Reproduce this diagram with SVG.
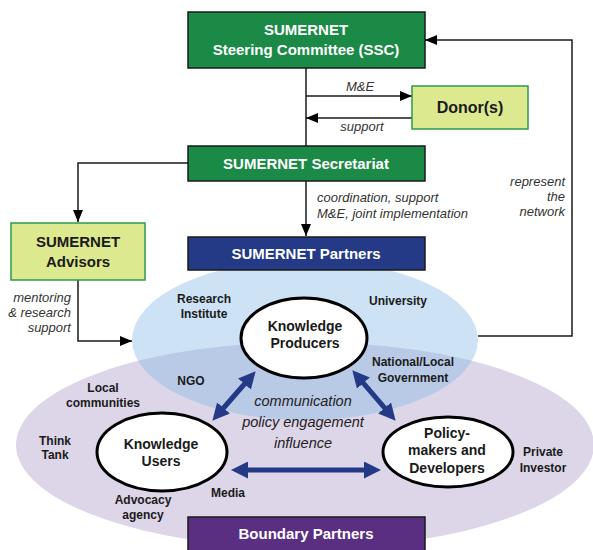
<svg xmlns="http://www.w3.org/2000/svg" width="593" height="550" viewBox="0 0 593 550">
<style>
.t{font-family:"Liberation Sans",Arial,sans-serif;font-weight:bold;text-anchor:middle}
.w{fill:#ffffff}
.k{fill:#1a1a1a}
.i{font-family:"Liberation Sans",Arial,sans-serif;font-style:italic;font-size:13px;fill:#333333}
.c{font-family:"Liberation Sans",Arial,sans-serif;font-style:italic;font-size:14.5px;fill:#222222;text-anchor:middle}
.lbl{font-family:"Liberation Sans",Arial,sans-serif;font-weight:bold;font-size:12px;fill:#1a1a1a;text-anchor:middle}
.con{fill:none;stroke:#1a1a1a;stroke-width:1.5}
.blu{fill:none;stroke:#243a86;stroke-width:5}
.ell{fill:#ffffff;stroke:#000000;stroke-width:3}
</style>
<defs>
<marker id="ah" viewBox="0 0 12 10" refX="12" refY="5" markerWidth="12" markerHeight="10" markerUnits="userSpaceOnUse" orient="auto">
<path d="M0,0 L12,5 L0,10 z" fill="#000000"/>
</marker>
<marker id="bh" viewBox="0 0 17 17" refX="4" refY="8.5" markerWidth="17" markerHeight="17" markerUnits="userSpaceOnUse" orient="auto-start-reverse">
<path d="M0,0 L17,8.5 L0,17 z" fill="#243a86"/>
</marker>
<clipPath id="clipBlue"><ellipse cx="305" cy="340" rx="173" ry="80"/></clipPath>
</defs>

<g id="background">
<ellipse cx="305" cy="445" rx="289" ry="103" fill="#ddd5e8"/>
<ellipse cx="305" cy="340" rx="173" ry="80" fill="#cee2f5"/>
<ellipse cx="305" cy="445" rx="289" ry="103" fill="#b9cae7" clip-path="url(#clipBlue)"/>
</g>

<g id="connectors">
<line class="con" x1="306" y1="68" x2="306" y2="146"/>
<line class="con" x1="306" y1="96" x2="412" y2="96" marker-end="url(#ah)"/>
<line class="con" x1="412" y1="118" x2="306" y2="118" marker-end="url(#ah)"/>
<polyline class="con" points="188,163 78,163 78,222" marker-end="url(#ah)"/>
<line class="con" x1="306" y1="181" x2="306" y2="236" marker-end="url(#ah)"/>
<polyline class="con" points="78,280 78,341 132,341" marker-end="url(#ah)"/>
<polyline class="con" points="478,336 572,336 572,40 425,40" marker-end="url(#ah)"/>
<line class="blu" x1="247.1" y1="381" x2="220.9" y2="411" marker-start="url(#bh)" marker-end="url(#bh)"/>
<line class="blu" x1="360.8" y1="380.1" x2="387.2" y2="410.9" marker-start="url(#bh)" marker-end="url(#bh)"/>
<line class="blu" x1="244" y1="470" x2="368" y2="470" marker-start="url(#bh)" marker-end="url(#bh)"/>
<text class="i" x="360" y="91" text-anchor="middle">M&amp;E</text>
<text class="i" x="362" y="131" text-anchor="middle">support</text>
<text class="i" x="317" y="202">coordination, support</text>
<text class="i" x="317" y="218">M&amp;E, joint implementation</text>
<text class="i" x="565" y="186" text-anchor="end">represent</text>
<text class="i" x="565" y="201" text-anchor="end">the</text>
<text class="i" x="565" y="216" text-anchor="end">network</text>
<text class="i" x="71" y="302" text-anchor="end">mentoring</text>
<text class="i" x="71" y="317" text-anchor="end">&amp; research</text>
<text class="i" x="71" y="332" text-anchor="end">support</text>
<text class="c" x="303" y="406">communication</text>
<text class="c" x="303" y="427">policy engagement</text>
<text class="c" x="303" y="448">influence</text>
</g>

<g id="ssc">
<rect x="188" y="12" width="237" height="56" fill="#1b8a46" stroke="#1a1a1a" stroke-width="1.5"/>
<text class="t w" x="306" y="35" font-size="15">SUMERNET</text>
<text class="t w" x="306" y="55" font-size="15">Steering Committee (SSC)</text>
</g>

<g id="donors">
<rect x="412" y="86" width="116" height="43" fill="#dde98e" stroke="#2e9a4c" stroke-width="1.5"/>
<text class="t k" x="470" y="113" font-size="16">Donor(s)</text>
</g>

<g id="secretariat">
<rect x="188" y="146" width="237" height="35" fill="#1b8a46" stroke="#1a1a1a" stroke-width="1.5"/>
<text class="t w" x="306" y="169" font-size="15">SUMERNET Secretariat</text>
</g>

<g id="advisors">
<rect x="11" y="223" width="134" height="57" fill="#dde98e" stroke="#2e9a4c" stroke-width="1.5"/>
<text class="t k" x="78" y="247" font-size="15">SUMERNET</text>
<text class="t k" x="78" y="267" font-size="15">Advisors</text>
</g>

<g id="partners">
<rect x="188" y="237" width="237" height="33" fill="#253a86" stroke="#1a1a1a" stroke-width="1.5"/>
<text class="t w" x="306" y="259" font-size="15">SUMERNET Partners</text>
</g>

<g id="boundary-partners">
<rect x="188" y="517" width="237" height="40" fill="#5a2f82" stroke="#1a1a1a" stroke-width="1.5"/>
<text class="t w" x="306" y="539" font-size="15">Boundary Partners</text>
</g>

<g id="knowledge-producers">
<ellipse class="ell" cx="304" cy="338" rx="63" ry="40"/>
<text class="t k" x="305" y="331" font-size="14">Knowledge</text>
<text class="t k" x="305" y="348" font-size="14">Producers</text>
</g>

<g id="knowledge-users">
<ellipse class="ell" cx="162" cy="452" rx="65" ry="39"/>
<text class="t k" x="161" y="449" font-size="14">Knowledge</text>
<text class="t k" x="161" y="466" font-size="14">Users</text>
</g>

<g id="policy-makers">
<ellipse class="ell" cx="448" cy="452" rx="65" ry="35"/>
<text class="t k" x="447" y="438" font-size="14">Policy-</text>
<text class="t k" x="447" y="455" font-size="14">makers and</text>
<text class="t k" x="447" y="473" font-size="14">Developers</text>
</g>

<g id="labels">
<text class="lbl" x="204" y="303">Research</text>
<text class="lbl" x="204" y="318">Institute</text>
<text class="lbl" x="398" y="305">University</text>
<text class="lbl" x="413" y="366">National/Local</text>
<text class="lbl" x="413" y="382">Government</text>
<text class="lbl" x="191" y="385">NGO</text>
<text class="lbl" x="103" y="392">Local</text>
<text class="lbl" x="103" y="407">communities</text>
<text class="lbl" x="55" y="445">Think</text>
<text class="lbl" x="55" y="459">Tank</text>
<text class="lbl" x="143" y="504">Advocacy</text>
<text class="lbl" x="143" y="519">agency</text>
<text class="lbl" x="228" y="497">Media</text>
<text class="lbl" x="543" y="456">Private</text>
<text class="lbl" x="543" y="472">Investor</text>
</g>
</svg>
